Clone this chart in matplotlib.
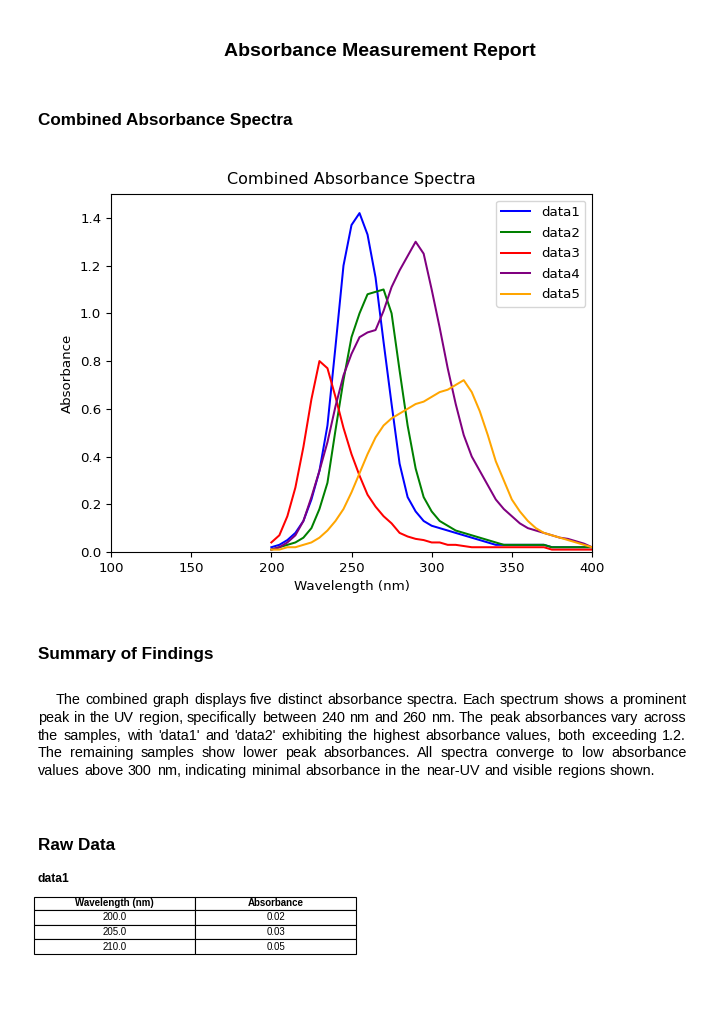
import matplotlib
matplotlib.use("Agg")
from matplotlib import pyplot as plt

# wavelength grid (nm) and absorbance of the five samples
wavelength = [200, 205, 210, 215, 220, 225, 230, 235, 240, 245,
              250, 255, 260, 265, 270, 275, 280, 285, 290, 295,
              300, 305, 310, 315, 320, 325, 330, 335, 340, 345,
              350, 355, 360, 365, 370, 375, 380, 385, 390, 395, 400]

data1 = [0.02, 0.03, 0.05, 0.08, 0.13, 0.22, 0.34, 0.53, 0.86, 1.20,
         1.37, 1.42, 1.33, 1.15, 0.88, 0.62, 0.37, 0.23, 0.17, 0.13,
         0.11, 0.10, 0.09, 0.08, 0.07, 0.06, 0.05, 0.04, 0.03, 0.03,
         0.03, 0.03, 0.03, 0.03, 0.03, 0.02, 0.02, 0.02, 0.02, 0.02, 0.02]
data2 = [0.01, 0.02, 0.03, 0.04, 0.06, 0.10, 0.18, 0.29, 0.51, 0.72,
         0.90, 1.00, 1.08, 1.09, 1.10, 1.00, 0.76, 0.53, 0.35, 0.23,
         0.17, 0.13, 0.11, 0.09, 0.08, 0.07, 0.06, 0.05, 0.04, 0.03,
         0.03, 0.03, 0.03, 0.03, 0.03, 0.02, 0.02, 0.02, 0.02, 0.02, 0.02]
data3 = [0.04, 0.07, 0.15, 0.27, 0.44, 0.64, 0.80, 0.77, 0.65, 0.52,
         0.41, 0.32, 0.24, 0.19, 0.15, 0.12, 0.08, 0.065, 0.055, 0.05,
         0.04, 0.04, 0.03, 0.03, 0.025, 0.02, 0.02, 0.02, 0.02, 0.02,
         0.02, 0.02, 0.02, 0.02, 0.02, 0.01, 0.01, 0.01, 0.01, 0.01, 0.01]
data4 = [0.01, 0.02, 0.04, 0.07, 0.13, 0.23, 0.34, 0.46, 0.61, 0.74,
         0.83, 0.90, 0.92, 0.93, 1.01, 1.11, 1.18, 1.24, 1.30, 1.25,
         1.10, 0.94, 0.77, 0.62, 0.49, 0.40, 0.34, 0.28, 0.22, 0.18,
         0.15, 0.12, 0.10, 0.09, 0.08, 0.07, 0.06, 0.055, 0.045, 0.035, 0.02]
data5 = [0.01, 0.01, 0.02, 0.02, 0.03, 0.04, 0.06, 0.09, 0.13, 0.18,
         0.25, 0.33, 0.41, 0.48, 0.53, 0.56, 0.58, 0.60, 0.62, 0.63,
         0.65, 0.67, 0.68, 0.70, 0.72, 0.67, 0.59, 0.49, 0.38, 0.30,
         0.22, 0.17, 0.13, 0.10, 0.08, 0.07, 0.06, 0.05, 0.04, 0.03, 0.02]

names = ["data1", "data2", "data3", "data4", "data5"]
colors = ["blue", "green", "red", "purple", "orange"]

summary_lines = [
    "The combined graph displays five distinct absorbance spectra. Each spectrum shows a prominent",
    "peak in the UV region, specifically between 240 nm and 260 nm. The peak absorbances vary across",
    "the samples, with 'data1' and 'data2' exhibiting the highest absorbance values, both exceeding 1.2.",
    "The remaining samples show lower peak absorbances. All spectra converge to low absorbance",
    "values above 300 nm, indicating minimal absorbance in the near-UV and visible regions shown.",
]

W, H = 724, 1024
fig = plt.figure(figsize=(W / 100, H / 100), dpi=100)
page_font = "Liberation Sans"


def fx(px):
    return px / W


def fy(py):
    return 1 - py / H


# page headings
fig.text(fx(380), fy(51), "Absorbance Measurement Report", ha="center", va="center",
         fontsize=14, fontweight="bold", family=page_font)
fig.text(fx(38), fy(121), "Combined Absorbance Spectra", ha="left", va="center",
         fontsize=12.3, fontweight="bold", family=page_font)
fig.text(fx(38), fy(655), "Summary of Findings", ha="left", va="center",
         fontsize=12.3, fontweight="bold", family=page_font)
fig.text(fx(38), fy(845), "Raw Data", ha="left", va="center",
         fontsize=12.3, fontweight="bold", family=page_font)
fig.text(fx(38), fy(879), "data1", ha="left", va="center",
         fontsize=8.7, fontweight="bold", family=page_font)

# the chart
ax = fig.add_axes([fx(111), fy(552), fx(592) - fx(111), fy(194) - fy(552)])
series = [data1, data2, data3, data4, data5]
for name, vals, c in zip(names, series, colors):
    ax.plot(wavelength, vals, color=c, lw=1.45, label=name)
ax.set_xlim(100, 400)
ax.set_ylim(0, 1.5)
ax.set_xticks([100, 150, 200, 250, 300, 350, 400])
ax.set_yticks([0.0, 0.2, 0.4, 0.6, 0.8, 1.0, 1.2, 1.4])
ax.tick_params(labelsize=9.6)
ax.set_title("Combined Absorbance Spectra", fontsize=11.5, pad=7.4)
ax.set_xlabel("Wavelength (nm)", fontsize=9.6)
ax.set_ylabel("Absorbance", fontsize=9.6)
ax.legend(loc="upper right", fontsize=9.6, labelspacing=0.57, handlelength=2.18)

# justified summary paragraph, word by word (baselines in whole pixels from the top)
renderer = fig.canvas.get_renderer()
left, indent = 38, 18
line_ends = [686, 686, 686, 686, 655]  # last line is not justified, just ends earlier
para_size = 10.4
baselines = [704, 722, 740, 757, 775]


def text_width(s):
    t = fig.text(0, 0, s, fontsize=para_size, family=page_font)
    w = t.get_window_extent(renderer).width
    t.remove()
    return w


for i, line in enumerate(summary_lines):
    words = line.split()
    start = left + (indent if i == 0 else 0)
    widths = [text_width(w) for w in words]
    gap = (line_ends[i] - start - sum(widths)) / (len(words) - 1)
    x = start
    for w, wd in zip(words, widths):
        fig.text(fx(round(x)), fy(baselines[i]), w, ha="left", va="baseline",
                 fontsize=para_size, family=page_font)
        x += wd + gap

# raw data table for data1
tab_ax = fig.add_axes([fx(34), fy(954), fx(356) - fx(34), fy(897) - fy(954)])
tab_ax.axis("off")
rows = [[f"{w:.1f}", f"{a:.2f}"] for w, a in zip(wavelength[:3], data1[:3])]
tbl = tab_ax.table(cellText=rows, colLabels=["Wavelength (nm)", "Absorbance"],
                   cellLoc="center", bbox=[0, 0, 1, 1])
tbl.auto_set_font_size(False)
for (r, c), cell in tbl.get_celld().items():
    cell.set_edgecolor("black")
    cell.set_linewidth(0.8)
    cell.get_text().set_fontsize(7)
    cell.get_text().set_family(page_font)
    if r == 0:
        cell.get_text().set_fontweight("bold")
        cell.set_height(13 / 57)
    else:
        cell.set_height(15 / 57)

fig.savefig("out.png", dpi=100)
